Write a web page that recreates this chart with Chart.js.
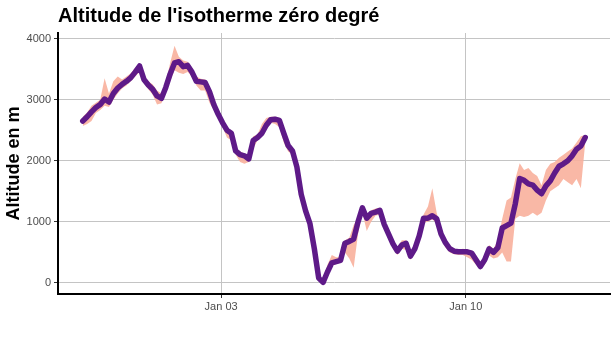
<!DOCTYPE html>
<html>
<head>
<meta charset="utf-8">
<title>Altitude de l'isotherme zéro degré</title>
<script src="https://cdn.jsdelivr.net/npm/chart.js@4.4.0/dist/chart.umd.min.js"></script>
<style>
    body { margin: 0; background: #ffffff; }
    #wrap { width: 616px; height: 339px; }
</style>
</head>
<body>
<div id="wrap"><canvas id="isoChart" width="616" height="339"></canvas></div>
<script>
// hours counted from Jan 03 00:00, one value every 3 hours
const startHour = -95;
const stepHours = 3;

const isoZero = [
    2650, 2720, 2800, 2870, 2920, 3010, 2960, 3100, 3190, 3250,
    3300, 3360, 3450, 3550, 3330, 3240, 3170, 3060, 3020, 3200,
    3420, 3600, 3620, 3540, 3560, 3450, 3300, 3290, 3280, 3130,
    2920, 2760, 2620, 2500, 2450, 2160, 2100, 2080, 2030, 2330,
    2380, 2450, 2580, 2670, 2680, 2660, 2450, 2250, 2160, 1900,
    1450, 1180, 970, 560, 80, 10, 180, 330, 350, 370,
    650, 680, 720, 1000, 1230, 1060, 1140, 1160, 1190, 960,
    800, 640, 520, 620, 650, 440, 560, 770, 1060, 1060,
    1100, 1050, 800, 660, 560, 520, 510, 510, 510, 490,
    380, 270, 380, 560, 500, 580, 900, 940, 980, 1300,
    1710, 1680, 1620, 1600, 1520, 1460, 1590, 1670, 1800, 1910,
    1950, 2000, 2080, 2190, 2240, 2380
];

const isoMax = [
    2720, 2790, 2900, 2950, 3000, 3350, 3100, 3300, 3380, 3330,
    3380, 3430, 3520, 3580, 3400, 3300, 3250, 3150, 3100, 3280,
    3600, 3880, 3700, 3640, 3620, 3520, 3380, 3340, 3330, 3180,
    2970, 2800, 2660, 2540, 2500, 2200, 2150, 2120, 2100, 2400,
    2430, 2600, 2700, 2720, 2720, 2700, 2480, 2280, 2190, 1930,
    1480, 1210, 1000, 590, 110, 60, 300, 460, 420, 420,
    700, 740, 950, 1060, 1280, 1120, 1190, 1220, 1230, 1030,
    850, 700, 570, 700, 700, 490, 620, 820, 1120, 1250,
    1550, 1150, 880, 720, 610, 560, 550, 560, 550, 530,
    430, 330, 450, 620, 560, 700, 1050, 1350, 1400, 1700,
    1960, 1850, 1880, 1800, 1750, 1600, 1850, 1950, 1980, 2050,
    2100, 2150, 2200, 2300, 2400, 2420
];

const isoMin = [
    2570, 2600, 2650, 2780, 2830, 2900, 2880, 3000, 3100, 3180,
    3230, 3300, 3380, 3450, 3270, 3170, 3080, 2920, 2940, 3120,
    3300, 3480, 3440, 3420, 3450, 3380, 3230, 3150, 3150, 2950,
    2830, 2680, 2550, 2380, 2330, 2100, 1980, 1950, 1980, 2200,
    2330, 2400, 2520, 2620, 2600, 2550, 2300, 2150, 2100, 1850,
    1400, 1140, 930, 520, 40, -10, 140, 280, 310, 330,
    500, 400, 250, 800, 1150, 850, 1000, 1100, 1120, 900,
    740, 560, 460, 560, 540, 380, 480, 700, 980, 1000,
    1040, 980, 720, 580, 500, 470, 460, 460, 420, 380,
    300, 220, 300, 450, 400, 420, 500, 350, 350, 1050,
    1100, 1080, 1100, 1150, 1100, 1150, 1350, 1500, 1550, 1600,
    1700, 1650, 1600, 1700, 1550, 2300
];

const yTickValues = [0, 1000, 2000, 3000, 4000];
const xTickHours = [0, 168];
const xTickLabels = ["Jan 03", "Jan 10"];

function toPoints(values) {
    return values.map((v, i) => ({ x: startHour + i * stepHours, y: v }));
}

const ctx = document.getElementById("isoChart").getContext("2d");

new Chart(ctx, {
    type: "line",
    data: {
        datasets: [
            {
                label: "Altitude",
                data: toPoints(isoZero),
                borderColor: "#5e1a88",
                borderWidth: 5.5,
                borderJoinStyle: "round",
                borderCapStyle: "round",
                pointRadius: 0,
                fill: false,
                tension: 0,
            },
            {
                label: "Max",
                data: toPoints(isoMax),
                borderWidth: 0,
                borderColor: "rgba(0,0,0,0)",
                backgroundColor: "rgba(248, 176, 156, 0.9)",
                pointRadius: 0,
                fill: "+1",
                tension: 0,
            },
            {
                label: "Min",
                data: toPoints(isoMin),
                borderWidth: 0,
                borderColor: "rgba(0,0,0,0)",
                pointRadius: 0,
                fill: false,
                tension: 0,
            },
        ],
    },
    options: {
        responsive: false,
        animation: false,
        layout: {
            padding: { top: 0, right: 6, bottom: 0, left: 0 },
        },
        plugins: {
            legend: { display: false },
            tooltip: { enabled: false },
            title: {
                display: true,
                text: "Altitude de l'isotherme zéro degré",
                align: "start",
                fullSize: false,
                color: "#000000",
                font: { family: "'Liberation Sans', Arial, sans-serif", size: 20, weight: "bold" },
                padding: { top: 4, bottom: 5 },
            },
        },
        scales: {
            x: {
                type: "linear",
                min: -112,
                max: 267,
                afterBuildTicks: (scale) => {
                    scale.ticks = xTickHours.map((h) => ({ value: h }));
                },
                afterFit: (scale) => {
                    scale.height = 45;
                },
                ticks: {
                    callback: (value) => xTickLabels[xTickHours.indexOf(value)],
                    color: "#4d4d4d",
                    font: { family: "'Liberation Sans', Arial, sans-serif", size: 11 },
                    padding: 2,
                    maxRotation: 0,
                },
                grid: {
                    color: "#c4c4c4",
                    lineWidth: 1,
                    tickColor: "#333333",
                    tickLength: 4,
                },
                border: { color: "#000000", width: 2 },
            },
            y: {
                min: -180,
                max: 4090,
                afterBuildTicks: (scale) => {
                    scale.ticks = yTickValues.map((v) => ({ value: v }));
                },
                afterFit: (scale) => {
                    scale.width = 58;
                },
                ticks: {
                    callback: (value) => String(value),
                    color: "#4d4d4d",
                    font: { family: "'Liberation Sans', Arial, sans-serif", size: 11 },
                    padding: 3,
                },
                grid: {
                    color: "#c4c4c4",
                    lineWidth: 1,
                    tickColor: "#333333",
                    tickLength: 4,
                },
                border: { color: "#000000", width: 2 },
                title: {
                    display: true,
                    text: "Altitude en m",
                    color: "#000000",
                    font: { family: "'Liberation Sans', Arial, sans-serif", size: 18, weight: "bold" },
                    padding: { top: 3, bottom: 0 },
                },
            },
        },
    },
});
</script>
</body>
</html>
